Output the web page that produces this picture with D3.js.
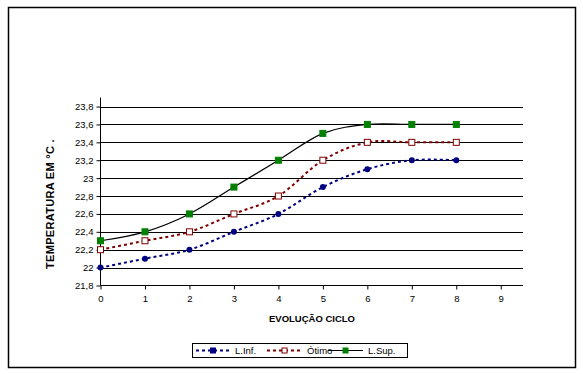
<!DOCTYPE html>
<html><head><meta charset="utf-8">
<script src="https://cdn.jsdelivr.net/npm/d3@7"></script>
<style>body{margin:0;background:#fff}svg{display:block;font-family:"Liberation Sans",Arial,sans-serif}</style>
</head><body>
<svg id="c" width="583" height="374"></svg>
<script>
const cycles = [0,1,2,3,4,5,6,7,8];
const lInf = [22.0,22.1,22.2,22.4,22.6,22.9,23.1,23.2,23.2];
const otimo = [22.2,22.3,22.4,22.6,22.8,23.2,23.4,23.4,23.4];
const lSup = [22.3,22.4,22.6,22.9,23.2,23.5,23.6,23.6,23.6];
const xTicks = [0,1,2,3,4,5,6,7,8,9];
const yTicks = [21.8,22,22.2,22.4,22.6,22.8,23,23.2,23.4,23.6,23.8];
const seriesNames = ["L.Inf.","Ótimo","L.Sup."];
const xTitle = "EVOLUÇÃO CICLO";
const yTitle = "TEMPERATURA EM °C .";

const svg = d3.select("#c");
svg.append("rect").attr("x",8.5).attr("y",7.5).attr("width",567).attr("height",360)
  .attr("fill","#fff").attr("stroke","#000").attr("stroke-width",1.5);

const x = d3.scaleLinear().domain([0,9.5]).range([100.5,523]);
const y = d3.scaleLinear().domain([21.8,23.9]).range([285.5,97.6]);
const fmt = v => String(+v.toFixed(1)).replace(".",",");

// gridlines
svg.append("g").selectAll("line").data(yTicks.slice(1)).join("line")
  .attr("x1",x(0)).attr("x2",x(9.5))
  .attr("y1",d=>Math.round(y(d))+0.5).attr("y2",d=>Math.round(y(d))+0.5)
  .attr("stroke","#000").attr("stroke-width",1);

// axes
const yAxis = d3.axisLeft(y).tickValues(yTicks).tickFormat(fmt).tickSize(4).tickPadding(3);
const gy = svg.append("g").attr("transform",`translate(${x(0)},0)`).call(yAxis);
const xAxis = d3.axisBottom(x).tickValues(xTicks).tickFormat(d3.format("d")).tickSize(4).tickPadding(6);
const gx = svg.append("g").attr("transform",`translate(0,${y(21.8)})`).call(xAxis);
[gx,gy].forEach(g=>{
  g.select(".domain").attr("stroke","#000");
  g.selectAll(".tick line").attr("stroke","#000");
  g.selectAll("text").attr("font-size","9.5px").attr("fill","#000").attr("font-family","Liberation Sans, Arial, sans-serif");
});
gx.select(".domain").attr("d",`M${x(0)},0H${x(9.5)}`);
gy.select(".domain").attr("d",`M0,${y(21.8)}V${y(23.9)}`);

// titles
svg.append("text").attr("x",312).attr("y",322).attr("text-anchor","middle")
  .attr("font-size","9.5px").attr("font-weight","bold").text(xTitle);
svg.append("text").attr("transform","translate(54,204) rotate(-90)").attr("text-anchor","middle")
  .attr("font-size","11px").attr("font-weight","bold").attr("letter-spacing","0.3px").text(yTitle);

const line = d3.line().x((d,i)=>x(cycles[i])).y(d=>y(d)).curve(d3.curveCardinal.tension(0));

const series = [
  {name:seriesNames[0], vals:lInf, color:"#000080", dash:"3,3", w:2, marker:"circle", fill:"#000080"},
  {name:seriesNames[1], vals:otimo, color:"#800000", dash:"3,3", w:2, marker:"square", fill:"#fff"},
  {name:seriesNames[2], vals:lSup, color:"#000", dash:null, w:1.2, marker:"square", fill:"#008000", mstroke:"#008000"}
];

series.forEach(s=>{
  svg.append("path").attr("d",line(s.vals)).attr("fill","none")
    .attr("stroke",s.color).attr("stroke-width",s.w).attr("stroke-dasharray",s.dash);
});
series.forEach(s=>{
  const g = svg.append("g");
  if(s.marker==="circle"){
    g.selectAll("circle").data(s.vals).join("circle")
      .attr("cx",(d,i)=>x(cycles[i])).attr("cy",d=>y(d)).attr("r",3).attr("fill",s.fill);
  } else {
    g.selectAll("rect").data(s.vals).join("rect")
      .attr("x",(d,i)=>x(cycles[i])-3).attr("y",d=>y(d)-3).attr("width",6).attr("height",6)
      .attr("fill",s.fill).attr("stroke",s.mstroke||s.color).attr("stroke-width",1);
  }
});

// legend
const lg = svg.append("g");
lg.append("rect").attr("x",192.5).attr("y",343.5).attr("width",215).attr("height",14)
  .attr("fill","#fff").attr("stroke","#000").attr("stroke-width",1);
const lx = [196,267,328];
const lw = [34,35,35];
series.forEach((s,i)=>{
  const cy = 350.5;
  lg.append("line").attr("x1",lx[i]).attr("x2",lx[i]+lw[i]).attr("y1",cy).attr("y2",cy)
    .attr("stroke",s.color).attr("stroke-width",s.w).attr("stroke-dasharray",s.dash);
  const mx = lx[i]+lw[i]/2;
  lg.append("rect").attr("x",mx-2.5).attr("y",cy-2.5).attr("width",5).attr("height",5)
    .attr("fill",s.fill).attr("stroke",s.mstroke||s.color).attr("stroke-width",1);
  lg.append("text").attr("x",lx[i]+lw[i]+5).attr("y",cy+3.5).attr("font-size","9.5px").text(s.name);
});
</script>
</body></html>
